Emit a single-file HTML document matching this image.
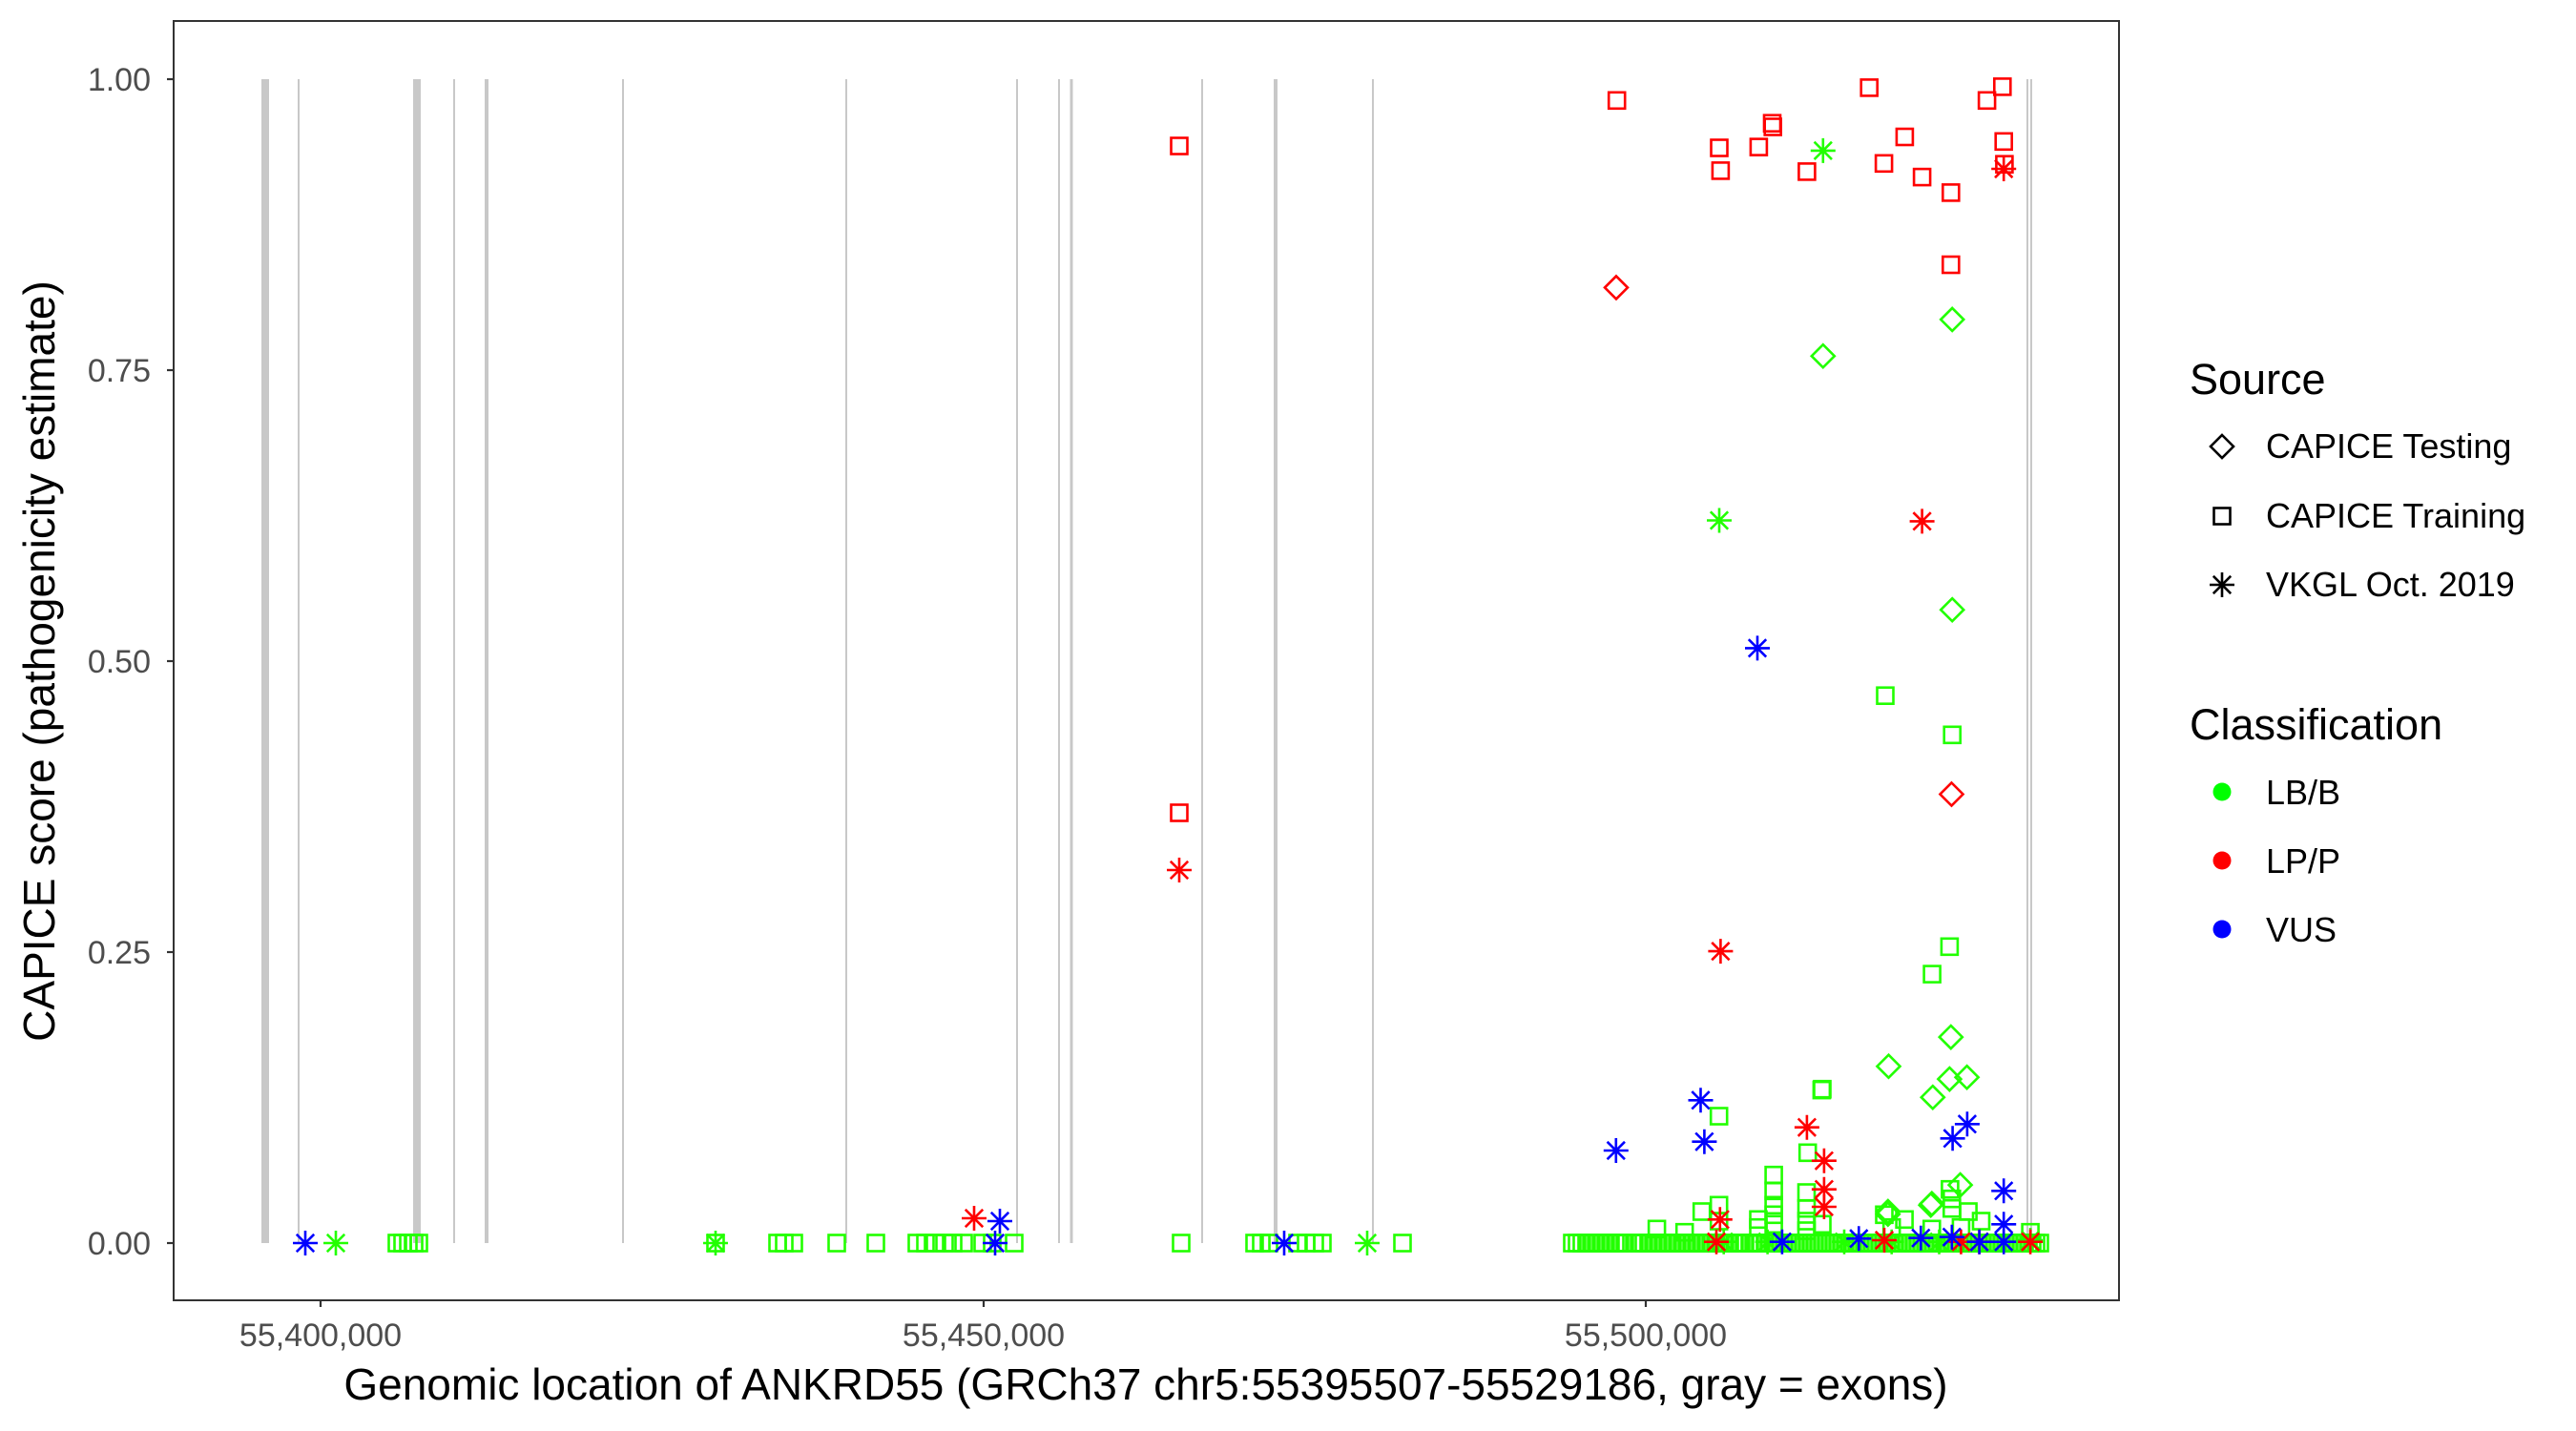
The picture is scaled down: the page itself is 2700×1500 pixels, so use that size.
<!DOCTYPE html>
<html><head><meta charset="utf-8"><style>
html,body{margin:0;padding:0;background:#fff;}
svg{display:block;}
text{font-family:"Liberation Sans",Arial,sans-serif;}
</style></head><body>
<svg id="s" width="2700" height="1500" viewBox="0 0 2700 1500" xmlns="http://www.w3.org/2000/svg">
<defs>
<g id="sq"><rect x="-8.5" y="-8.5" width="17" height="17" fill="none" stroke-width="2.6"/></g>
<g id="di"><path d="M0,-12 L12,0 L0,12 L-12,0 Z" fill="none" stroke-width="2.6"/></g>
<g id="as"><path d="M0,-13V13M-13,0H13M-9.2,-9.2L9.2,9.2M-9.2,9.2L9.2,-9.2" fill="none" stroke-width="2.6"/></g>
</defs>
<rect x="0" y="0" width="2700" height="1500" fill="#fff"/>
<g id="exons" stroke="#c8c8c8"></g>
<g id="pts"></g>
<rect x="182" y="22" width="2039" height="1341" fill="none" stroke="#333" stroke-width="2"/>
<g stroke="#333" stroke-width="2.2">
<line x1="175" y1="83" x2="182" y2="83"/><line x1="175" y1="388" x2="182" y2="388"/>
<line x1="175" y1="693" x2="182" y2="693"/><line x1="175" y1="998" x2="182" y2="998"/>
<line x1="175" y1="1303" x2="182" y2="1303"/>
<line x1="336" y1="1363" x2="336" y2="1370"/><line x1="1031" y1="1363" x2="1031" y2="1370"/><line x1="1725" y1="1363" x2="1725" y2="1370"/>
</g>
<g font-size="34" fill="#4d4d4d" text-anchor="end">
<text x="158" y="95">1.00</text><text x="158" y="400">0.75</text><text x="158" y="705">0.50</text>
<text x="158" y="1010">0.25</text><text x="158" y="1315">0.00</text>
</g>
<g font-size="34" fill="#4d4d4d" text-anchor="middle">
<text x="336" y="1411">55,400,000</text><text x="1031" y="1411">55,450,000</text><text x="1725" y="1411">55,500,000</text>
</g>
<text x="1201" y="1467" font-size="46" text-anchor="middle" fill="#000">Genomic location of ANKRD55 (GRCh37 chr5:55395507-55529186, gray = exons)</text>
<text transform="translate(57,693) rotate(-90)" font-size="46" text-anchor="middle" fill="#000">CAPICE score (pathogenicity estimate)</text>
<text x="2295" y="413" font-size="45" fill="#000">Source</text>
<g stroke="#000"><use href="#di" x="2329" y="468"/><use href="#sq" x="2329" y="541"/><use href="#as" x="2329" y="613"/></g>
<g font-size="36" fill="#000">
<text x="2375" y="480">CAPICE Testing</text><text x="2375" y="553">CAPICE Training</text><text x="2375" y="625">VKGL Oct. 2019</text>
</g>
<text x="2295" y="775" font-size="45" fill="#000">Classification</text>
<circle cx="2329" cy="830" r="9.5" fill="#00ff00"/><circle cx="2329" cy="902" r="9.5" fill="#ff0000"/><circle cx="2329" cy="974" r="9.5" fill="#0000ff"/>
<g font-size="36" fill="#000">
<text x="2375" y="843">LB/B</text><text x="2375" y="915">LP/P</text><text x="2375" y="987">VUS</text>
</g>
</svg>
<script>
var NS="http://www.w3.org/2000/svg";
var ex=[[278,8],[313,2],[437,8],[476,2],[510,4],[653,2],[887,2],[1066,2],[1110,2],[1123,3],[1260,2],[1337,4],[1439,2],[2125,2],[2129,2]];
var eg=document.getElementById('exons');
ex.forEach(function(e){var l=document.createElementNS(NS,'line');l.setAttribute('x1',e[0]);l.setAttribute('x2',e[0]);l.setAttribute('y1',83);l.setAttribute('y2',1303);l.setAttribute('stroke-width',e[1]);eg.appendChild(l);});
var G="#22ff00",R="#ff0000",B="#0000ff";
var pts=[];
function Z(arr){return arr.map(function(p){return [1600+p[0]/1.4255,p[1]/1.045];});}
function add(sh,c,arr){arr.forEach(function(p){pts.push([sh,c,p[0],p[1]]);});}
var Y0=1303;
var gzl=[416,422,428,434,439,750,815,822,832,877,918,961,970,980,990,999,1010,1030,1040,1063,1238,1315,1322,1330,1360,1369,1378,1386,1470];
add('sq',G,gzl.map(function(x){return [x,Y0];}));
var gzr=[];
for(var x=1648;x<=1703;x+=5)gzr.push(x);
for(var x=1713;x<=1830;x+=5)gzr.push(x);
for(var x=1834;x<=2140;x+=4)gzr.push(x);
add('sq',G,gzr.map(function(x){return [x,Y0];}));
function Z8(arr){return arr.map(function(p){return [1600+p[0]/2.613,1100+p[1]/3];});}
add('sq',G,Z8([[357,565],[433,575],[480,510],[527,490],[527,540],[635,535],[635,560],[677,395],[677,445],[677,490],[677,520],[677,550],[767,450],[767,500],[767,540],[767,570],[810,550],[810,125],[527,210],[770,325],[980,520],[1035,535],[1000,560],[1160,440],[1165,470],[1165,500],[1210,510],[1245,540],[1190,560],[1110,565],[1380,575]]));
add('sq',G,Z([[536,762],[636,805],[632,1037],[606,1067],[441,1194]]));
add('di',G,Z([[443,390],[636,350],[636,668],[541,1168],[634,1136],[607,1202],[632,1182],[658,1180],[648,1298],[604,1320],[540,1330]]));
add('di',G,Z8([[990,510],[1110,485]]));
add('as',G,[[352,Y0],[750,Y0],[1433,Y0]]);
add('as',G,Z([[443,165],[288,570]]));
add('as',G,Z8([[540,605],[660,605],[870,605],[1000,605],[1130,605],[1380,600]]));
add('sq',R,[[1236,153],[1236,852]]);
add('sq',R,Z([[135,110],[288,162],[290,187],[347,161],[367,135],[368,139],[419,188],[512,96],[534,179],[565,150],[591,194],[634,211],[634,290],[688,110],[711,95],[713,155],[714,180]]));
add('di',R,Z([[134,315],[635,870]]));
add('as',R,[[1236,912],[1021,1277]]);
add('as',R,Z([[591,571],[290,1042],[713,185]]));
add('as',R,Z8([[768,245],[815,350],[815,440],[815,495],[530,535],[520,605],[980,600],[1190,605],[1240,605],[1380,605]]));
add('as',B,[[320,Y0],[1048,1280],[1043,Y0],[1346,Y0]]);
add('as',B,Z([[345,710]]));
add('as',B,Z8([[245,318],[477,160],[487,290],[1167,280],[1207,235],[1307,445],[1307,550],[1307,605],[700,605],[910,595],[1080,593],[1165,590],[1240,605]]));
var pg=document.getElementById('pts');
pts.forEach(function(p){var u=document.createElementNS(NS,'use');u.setAttribute('href','#'+p[0]);u.setAttribute('x',p[2].toFixed(1));u.setAttribute('y',p[3].toFixed(1));u.setAttribute('stroke',p[1]);pg.appendChild(u);});
</script>
</body></html>
